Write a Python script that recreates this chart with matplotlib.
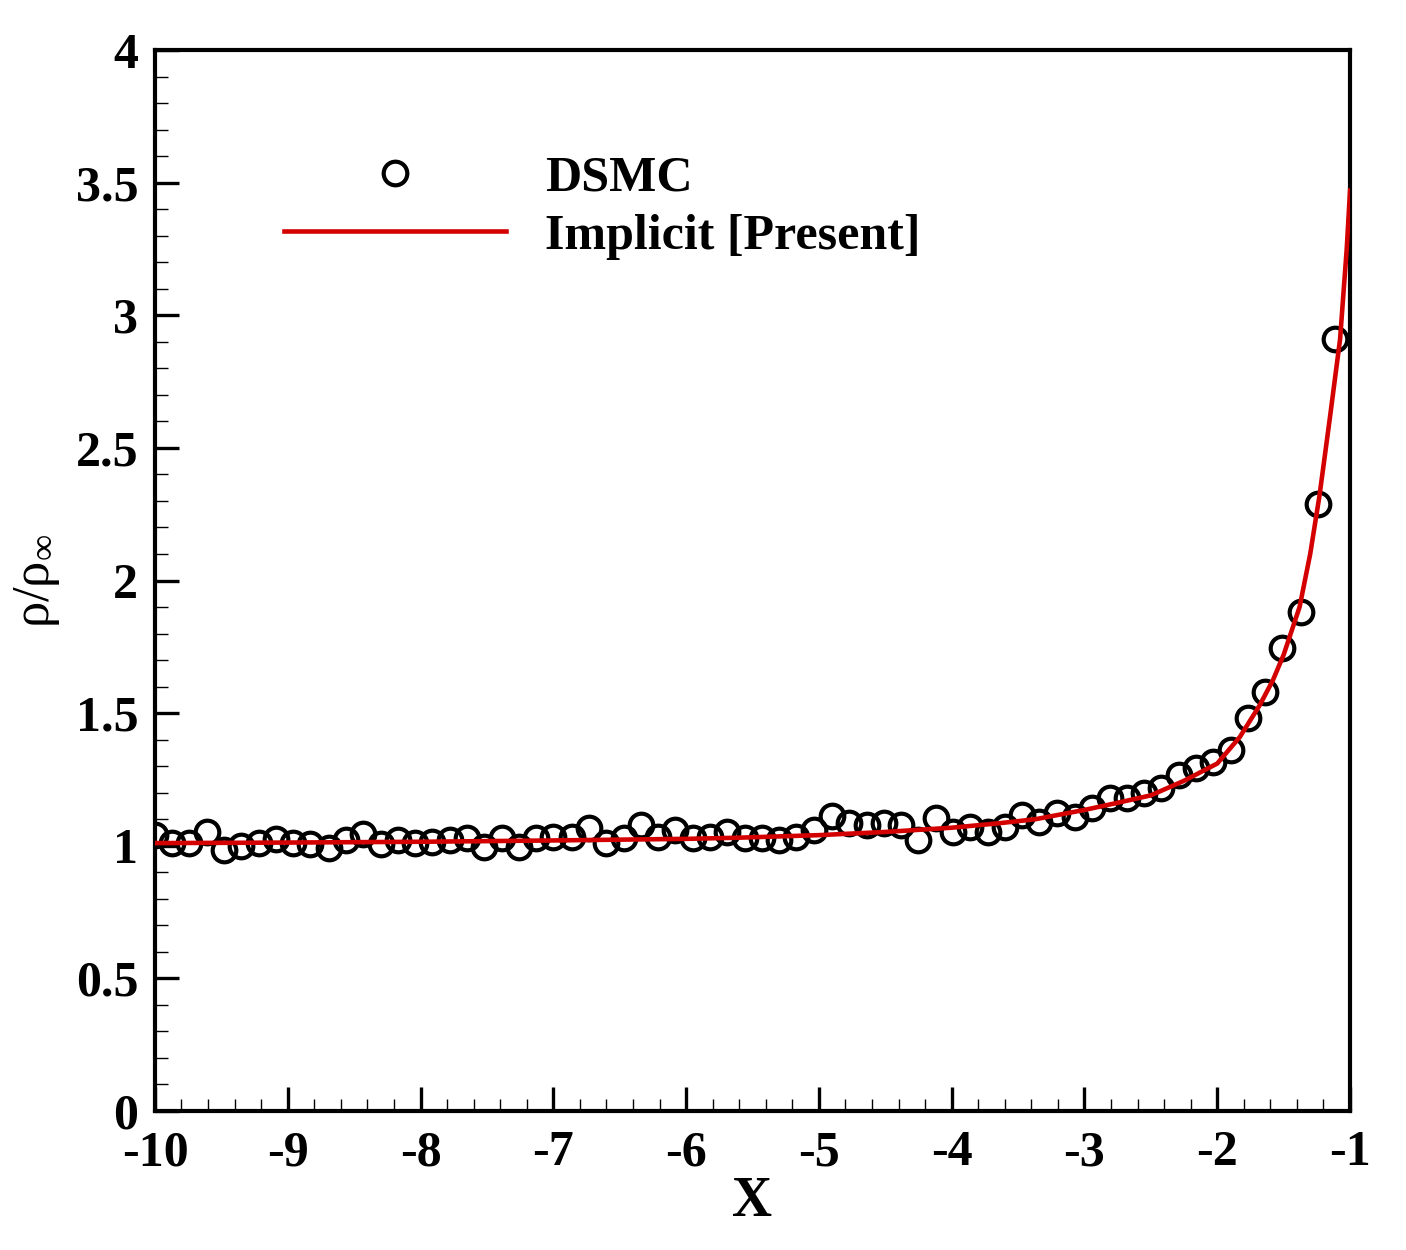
import numpy as np
import matplotlib.pyplot as plt
from matplotlib.ticker import MultipleLocator

# DSMC circles
x_dsmc = [-10.00, -9.87, -9.74, -9.61, -9.48, -9.35, -9.22, -9.09, -8.96, -8.83,
          -8.69, -8.56, -8.43, -8.30, -8.17, -8.04, -7.91, -7.78, -7.65, -7.52,
          -7.39, -7.26, -7.13, -7.00, -6.86, -6.73, -6.60, -6.47, -6.34, -6.21,
          -6.08, -5.95, -5.82, -5.69, -5.56, -5.43, -5.30, -5.17, -5.04, -4.90,
          -4.77, -4.64, -4.51, -4.38, -4.25, -4.12, -3.99, -3.86, -3.73, -3.60,
          -3.47, -3.34, -3.21, -3.07, -2.94, -2.81, -2.68, -2.55, -2.42, -2.29,
          -2.16, -2.03, -1.90, -1.77, -1.64, -1.51, -1.37, -1.24, -1.11]
y_dsmc = [1.040, 1.010, 1.010, 1.050, 0.985, 1.000, 1.010, 1.025, 1.010, 1.005,
          0.990, 1.020, 1.045, 1.005, 1.020, 1.010, 1.015, 1.020, 1.028, 0.996,
          1.028, 0.996, 1.028, 1.034, 1.034, 1.066, 1.009, 1.028, 1.078, 1.034,
          1.059, 1.028, 1.034, 1.053, 1.028, 1.028, 1.022, 1.034, 1.059, 1.113,
          1.085, 1.078, 1.085, 1.078, 1.022, 1.105, 1.053, 1.072, 1.053, 1.070,
          1.115, 1.090, 1.123, 1.110, 1.142, 1.179, 1.179, 1.198, 1.217, 1.267,
          1.292, 1.317, 1.361, 1.480, 1.580, 1.745, 1.880, 2.290, 2.910]

# implicit solution (red line)
x_impl = [-10.0, -9.0, -8.0, -7.0, -6.0, -5.63, -5.0, -4.5, -4.0, -3.64, -3.37,
          -3.0, -2.75, -2.5, -2.25, -2.0, -1.83, -1.68, -1.58, -1.5, -1.38, -1.3,
          -1.23, -1.15, -1.075, -1.025, -1.0]
y_impl = [1.010, 1.012, 1.015, 1.020, 1.026, 1.030, 1.040, 1.052, 1.068, 1.085, 1.100,
          1.135, 1.162, 1.190, 1.245, 1.310, 1.410, 1.530, 1.625, 1.720, 1.900, 2.100,
          2.320, 2.620, 2.910, 3.250, 3.470]

plt.rcParams['font.family'] = ['Liberation Serif', 'DejaVu Serif']
plt.rcParams['font.weight'] = 'bold'
plt.rcParams['axes.unicode_minus'] = False
plt.rcParams['mathtext.fontset'] = 'custom'
plt.rcParams['mathtext.rm'] = 'Liberation Serif:weight=normal'
plt.rcParams['mathtext.it'] = 'Liberation Serif:weight=normal'

fig = plt.figure(figsize=(14.06, 12.5), dpi=100)
ax = fig.add_axes([0.1102, 0.1112, 0.85, 0.8488])

ax.plot(x_dsmc, y_dsmc, 'o', mfc='none', mec='black', ms=17, mew=3.0,
        label='DSMC', zorder=2)
ax.plot(x_impl, y_impl, '-', color='#d40000', lw=3.3,
        label='Implicit [Present]', zorder=3)

ax.set_xlim(-10, -1)
ax.set_ylim(0, 4)
ax.xaxis.set_major_locator(MultipleLocator(1))
ax.xaxis.set_minor_locator(MultipleLocator(0.2))
ax.yaxis.set_major_locator(MultipleLocator(0.5))
ax.yaxis.set_minor_locator(MultipleLocator(0.1))
ax.yaxis.set_major_formatter(plt.FuncFormatter(lambda v, p: f'{v:g}'))

for s in ax.spines.values():
    s.set_linewidth(3.0)
ax.tick_params(which='major', direction='in', length=17, width=2.4,
               labelsize=36, top=False, right=False)
ax.tick_params(which='minor', direction='in', length=9, width=1.0,
               top=False, right=False)
ax.tick_params(axis='x', which='major', pad=14)
ax.tick_params(axis='y', which='major', pad=12)

ax.set_xlabel('X', fontsize=40, fontweight='bold', labelpad=0)
ax.set_ylabel(r'$\mathrm{\rho/\rho_\infty}$', fontsize=38, fontweight='normal',
              labelpad=10)

leg = ax.legend(loc='upper left', bbox_to_anchor=(0.07, 0.943), frameon=False,
                fontsize=36, handlelength=4.45, handletextpad=0.78,
                labelspacing=0.25, numpoints=1)

fig.savefig('out.png', dpi=100)
